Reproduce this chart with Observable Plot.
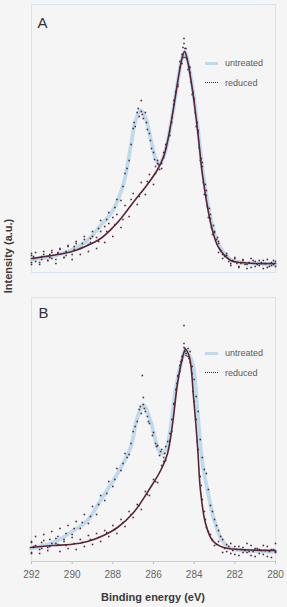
<!DOCTYPE html>
<html><head><meta charset="utf-8">
<script src="https://cdn.jsdelivr.net/npm/d3@7"></script>
<script src="https://cdn.jsdelivr.net/npm/@observablehq/plot@0.6"></script>
<style>
html,body{margin:0;padding:0;background:#f5f5f5;}
#wrap{position:relative;width:287px;height:607px;overflow:hidden;font-family:"Liberation Sans",Arial,sans-serif;}
.leg{position:absolute;font-size:9px;color:#5a5a5a;line-height:10px;white-space:nowrap;}
.sw{position:absolute;width:13px;}
#ylab{position:absolute;left:8px;top:256px;transform:translate(-50%,-50%) rotate(-90deg);font-size:11px;font-weight:bold;color:#3a3a3a;white-space:nowrap;}
#xlab{position:absolute;left:31px;width:244px;top:591px;text-align:center;font-size:11px;font-weight:bold;color:#3a3a3a;}
svg{display:block;background:transparent;}
</style></head>
<body><div id="wrap"></div>
<script>
// ---- Data (binding energy in eV, intensity in a.u.) ----
const xTicks = [292, 290, 288, 286, 284, 282, 280];
const seriesNames = ["untreated", "reduced"];
const panelLabels = ["A", "B"];

// Panel A fitted curves
const aFitUntreated = [[292.0,13],[291.0,16],[290.1,22],[289.25,32],[288.6,47],[288.0,62],[287.47,89],[287.13,125],[286.88,152],[286.64,162],[286.4,155],[286.15,135],[285.9,114],[285.72,108],[285.5,116],[285.3,132],[285.05,160],[284.8,192],[284.6,214],[284.47,221],[284.33,213],[284.08,185],[283.83,146],[283.6,105],[283.34,70],[283.1,46],[282.8,28],[282.2,13],[281.7,10],[281.0,9],[280.0,8]];
const aFitReduced = [[292.0,14],[291.0,17],[290.0,21],[289.25,27],[288.6,34],[288.0,45],[287.6,54],[287.0,70],[286.3,88],[285.8,103],[285.5,116],[285.3,132],[285.05,160],[284.8,192],[284.6,214],[284.47,221],[284.33,212],[284.08,182],[283.83,142],[283.6,99],[283.34,65],[283.1,42],[282.8,25],[282.2,12],[281.7,10],[281.0,9],[280.0,9]];
// Panel A measured points
const aPtsUntreated = [[292.0,8],[292.0,17],[291.8,20],[291.6,10],[291.4,18],[291.2,12],[291.0,20],[290.8,13],[290.6,23],[290.4,15],[290.2,27],[290.0,18],[289.8,31],[289.6,24],[289.4,36],[289.2,28],[289.0,41],[288.8,35],[288.6,52],[288.4,46],[288.2,60],[288.0,55],[287.8,73],[287.6,72],[287.4,99],[287.2,112],[287.0,144],[286.9,146],[286.8,160],[286.7,156],[286.6,172],[286.6,161],[286.5,154],[286.4,160],[286.3,143],[286.2,139],[286.1,124],[286.0,120],[285.9,106],[285.8,112],[285.7,103],[285.6,109],[285.4,124],[285.2,141],[285.0,168],[284.8,188],[284.6,218],[284.5,229],[284.4,215],[284.2,200],[284.0,172],[283.8,140],[283.6,110],[283.4,82],[283.2,58],[283.0,41],[282.8,31],[282.6,18],[282.4,17],[282.2,9],[282.0,14],[281.8,6],[281.6,12],[281.4,8],[281.2,5],[281.0,11],[280.8,7],[280.6,12],[280.4,5],[280.2,10],[280.0,6],
  [291.9,14],[291.5,16],[291.1,15],[290.7,19],[290.3,21],[289.9,26],[289.5,29],[289.1,34],[288.7,44],[288.3,53],[287.9,65],[287.5,86],[287.3,104],[287.1,128],[286.95,150],[286.75,164],[286.55,158],[286.35,150],[286.15,132],[285.95,113],[285.75,108],[285.5,115],[285.1,155],[284.9,181],[284.7,205],[284.45,224],[284.25,206],[284.05,180],[283.85,150],[283.65,114],[283.45,88],[283.25,64],[283.05,47],[282.85,35],[282.5,16],[282.1,12],[281.7,9],[281.3,10],[280.9,8],[280.5,9],[280.1,8]];
const aPtsReduced = [[292.0,10],[292.0,19],[291.8,11],[291.6,8],[291.4,21],[291.2,12],[291.0,22],[291.0,14],[290.8,9],[290.6,24],[290.4,15],[290.2,26],[290.0,13],[289.8,29],[289.6,18],[289.4,33],[289.2,21],[289.0,36],[288.8,24],[288.6,41],[288.4,30],[288.2,49],[288.0,36],[287.8,58],[287.6,45],[287.4,67],[287.2,56],[287.0,79],[286.8,68],[286.6,90],[286.4,78],[286.2,98],[286.0,88],[285.8,109],[285.6,104],[285.4,128],[285.2,137],[285.0,172],[284.8,186],[284.7,211],[284.6,209],[284.5,234],[284.5,215],[284.4,224],[284.3,203],[284.2,205],[284.1,178],[284.0,174],[283.9,146],[283.8,142],[283.7,112],[283.6,106],[283.5,78],[283.4,77],[283.3,55],[283.2,54],[283.1,38],[283.0,40],[282.8,29],[282.8,20],[282.6,14],[282.4,19],[282.2,7],[282.0,15],[281.8,5],[281.6,13],[281.4,4],[281.2,14],[281.0,6],[280.8,12],[280.6,4],[280.4,13],[280.2,7],[280.0,11],
  [291.9,16],[291.5,13],[291.1,18],[290.7,20],[290.3,17],[289.9,23],[289.5,25],[289.1,30],[288.7,31],[288.3,41],[287.9,48],[287.5,53],[287.1,73],[286.7,76],[286.3,91],[285.9,99],[285.5,120],[285.1,150],[284.9,180],[284.55,225],[284.35,214],[284.15,190],[283.95,160],[283.75,125],[283.55,90],[283.35,66],[283.15,45],[282.9,33],[282.7,22],[282.5,17],[282.3,11],[281.9,9],[281.5,8],[281.1,12],[280.7,10],[280.3,6],[280.1,12]];

// Panel B fitted curves
const bFitUntreated = [[292.05,13],[290.92,19],[290.08,29],[289.25,41],[288.61,61],[287.77,88],[287.13,114],[286.79,144],[286.49,156],[286.15,141],[285.9,121],[285.65,108],[285.41,111],[285.16,134],[284.92,171],[284.57,204],[284.43,212],[284.08,198],[283.83,148],[283.59,98],[283.34,71],[283.05,44],[282.7,24],[282.31,14],[281.47,11],[280.0,10]];
const bFitReduced = [[292.05,14],[290.92,16],[290.08,17],[289.25,20],[288.46,26],[287.77,34],[286.98,49],[286.15,74],[285.65,91],[285.31,108],[285.06,138],[284.82,178],[284.57,204],[284.43,212],[284.23,204],[284.03,164],[283.83,114],[283.69,71],[283.44,38],[283.1,21],[282.56,14],[281.72,12],[280.0,11]];
// Panel B measured points
const bPtsUntreated = [[292.0,8],[292.0,20],[291.8,25],[291.6,12],[291.4,27],[291.2,14],[291.0,30],[290.8,18],[290.6,33],[290.4,22],[290.2,36],[290.0,27],[289.8,40],[289.6,33],[289.4,47],[289.2,38],[289.0,55],[288.8,47],[288.6,66],[288.4,61],[288.2,80],[288.0,75],[287.8,93],[287.6,91],[287.4,108],[287.2,107],[287.0,130],[286.8,140],[286.7,152],[286.6,148],[286.55,186],[286.5,164],[286.5,157],[286.4,150],[286.3,145],[286.2,138],[286.0,129],[285.9,118],[285.8,116],[285.7,106],[285.6,112],[285.5,104],[285.4,115],[285.2,128],[285.0,157],[284.8,186],[284.6,201],[284.5,218],[284.4,206],[284.2,210],[284.0,182],[283.8,150],[283.6,104],[283.4,88],[283.2,56],[283.0,42],[282.8,31],[282.6,22],[282.4,10],[282.2,18],[282.0,7],[281.8,15],[281.6,9],[281.4,18],[281.2,6],[281.0,13],[280.8,8],[280.6,16],[280.4,5],[280.2,12],[280.0,9],
  [291.9,15],[291.5,19],[291.1,22],[290.7,25],[290.3,28],[289.9,33],[289.5,39],[289.1,45],[288.7,57],[288.3,68],[287.9,82],[287.5,98],[287.3,104],[287.1,118],[286.9,135],[286.65,155],[286.45,153],[286.25,140],[286.05,126],[285.85,115],[285.65,110],[285.45,108],[285.3,120],[285.1,142],[284.9,172],[284.7,196],[284.45,213],[284.3,205],[284.1,195],[283.9,165],[283.7,122],[283.5,92],[283.3,72],[283.1,50],[282.9,36],[282.7,25],[282.3,15],[281.9,12],[281.5,11],[281.1,10],[280.7,11],[280.3,10]];
const bPtsReduced = [[292.0,9],[292.0,19],[291.8,16],[291.6,8],[291.4,21],[291.2,11],[291.0,18],[290.8,23],[290.6,10],[290.4,20],[290.2,13],[290.0,24],[289.8,12],[289.6,22],[289.4,15],[289.2,26],[289.0,17],[288.8,28],[288.6,20],[288.4,31],[288.2,25],[288.0,36],[287.8,28],[287.6,42],[287.4,35],[287.2,50],[287.0,44],[286.8,57],[286.6,52],[286.4,70],[286.2,66],[286.0,82],[285.8,79],[285.6,96],[285.4,101],[285.2,121],[285.0,158],[284.9,172],[284.8,185],[284.7,190],[284.6,205],[284.5,214],[284.5,236],[284.4,208],[284.3,213],[284.2,199],[284.1,188],[284.0,160],[283.9,142],[283.8,112],[283.7,85],[283.6,62],[283.5,50],[283.4,34],[283.2,27],[283.0,16],[282.8,20],[282.6,9],[282.4,17],[282.2,8],[282.0,15],[281.8,6],[281.6,14],[281.4,9],[281.2,16],[281.0,5],[280.8,12],[280.6,7],[280.4,15],[280.2,4],[280.0,10],[280.0,18],
  [291.9,14],[291.5,13],[291.1,15],[290.7,17],[290.3,16],[289.9,18],[289.5,19],[289.1,22],[288.7,24],[288.3,29],[287.9,32],[287.5,39],[287.1,47],[286.7,56],[286.3,67],[285.9,80],[285.5,100],[285.1,130],[284.85,178],[284.65,200],[284.45,210],[284.25,203],[284.05,170],[283.85,120],[283.65,76],[283.45,42],[283.3,30],[283.1,22],[282.9,17],[282.5,13],[282.1,11],[281.7,12],[281.3,10],[280.9,13],[280.5,11],[280.1,12]];

// ---- Styles ----
const colUntreated = "#bddaef";
const colReduced = "#5a2434";
const colDots = "#4e2a36";
const colFrame = "#d6e4ee";

function panel(label, fitU, fitR, ptsU, ptsR, opts) {
  const marks = [
    Plot.frame({stroke: colFrame, strokeWidth: 1}),
    Plot.line(fitU, {x: d => d[0], y: d => d[1], stroke: colUntreated, strokeWidth: 3.8, curve: "catmull-rom"}),
    Plot.dot(ptsU, {x: d => d[0], y: d => d[1], r: 0.9, symbol: "square", fill: colDots, stroke: null}),
    Plot.dot(ptsR, {x: d => d[0], y: d => d[1], r: 0.9, symbol: "square", fill: colDots, stroke: null}),
    Plot.line(fitR, {x: d => d[0], y: d => d[1], stroke: colReduced, strokeWidth: 1.6, curve: "catmull-rom"}),
    Plot.text([label], {frameAnchor: "top-left", dx: opts.ldx, dy: opts.ldy, text: d => d, fontSize: 15, fill: "#333", textAnchor: "start", fontFamily: "Liberation Sans, Arial, sans-serif"})
  ];
  if (opts.axis) {
    marks.push(Plot.axisX({ticks: xTicks, tickSize: 3, tickPadding: 6, label: null, fontSize: 10, color: "#666", stroke: "#bbb"}));
    marks.push(Plot.ruleY([0], {y: () => opts.yDomain[0], stroke: "#ccc"}));
  }
  return Plot.plot({
    width: 287, height: opts.height,
    marginTop: opts.mt, marginBottom: opts.mb, marginLeft: 31, marginRight: 12,
    style: {background: "transparent", fontFamily: "Liberation Sans, Arial, sans-serif", fontSize: "10px", color: "#666"},
    x: {domain: [292, 280], axis: opts.axis ? undefined : null, label: null},
    y: {domain: opts.yDomain, axis: null},
    marks
  });
}

const wrap = document.getElementById("wrap");
const pA = panel(panelLabels[0], aFitUntreated, aFitReduced, aPtsUntreated, aPtsReduced,
  {height: 290, mt: 4, mb: 18, yDomain: [0, 268], axis: false, ldx: 6, ldy: 13});
const pB = panel(panelLabels[1], bFitUntreated, bFitReduced, bPtsUntreated, bPtsReduced,
  {height: 317, mt: 7, mb: 46, yDomain: [0, 264], axis: true, ldx: 7, ldy: 10});
pA.style.position = "absolute"; pA.style.left = "0px"; pA.style.top = "0px";
pB.style.position = "absolute"; pB.style.left = "0px"; pB.style.top = "290px";
wrap.appendChild(pA); wrap.appendChild(pB);

function legend(top) {
  const items = [
    {name: seriesNames[0], css: `border-top:3px solid ${colUntreated};`, dy: 0},
    {name: seriesNames[1], css: `border-top:1.5px dotted ${colReduced};`, dy: 20}
  ];
  for (const it of items) {
    const sw = document.createElement("div");
    sw.className = "sw"; sw.style.cssText += `left:205px;top:${top + it.dy - 1}px;` + it.css;
    wrap.appendChild(sw);
    const t = document.createElement("div");
    t.className = "leg"; t.textContent = it.name;
    t.style.left = "225px"; t.style.top = (top + it.dy - 5) + "px";
    wrap.appendChild(t);
  }
}
legend(63);
legend(353);

const yl = document.createElement("div"); yl.id = "ylab"; yl.textContent = "Intensity (a.u.)"; wrap.appendChild(yl);
const xl = document.createElement("div"); xl.id = "xlab"; xl.textContent = "Binding energy (eV)"; wrap.appendChild(xl);
</script></body></html>
